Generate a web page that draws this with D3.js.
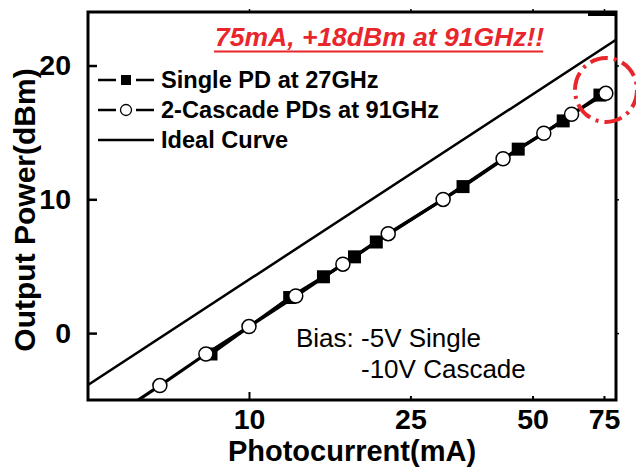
<!DOCTYPE html>
<html>
<head>
<meta charset="utf-8">
<script src="https://cdn.jsdelivr.net/npm/d3@7"></script>
<style>
  body { margin: 0; background: #fff; }
  svg { display: block; font-family: "Liberation Sans", Arial, sans-serif; }
</style>
</head>
<body>
<svg></svg>
<script>
// values
let singleI = [8.06, 12.6, 15.26, 18.2, 20.6, 33.7, 46.1, 59.5, 73.3]
let singleP = [-1.56, 2.66, 4.21, 5.70, 6.81, 10.95, 13.75, 15.86, 17.79]
let cascadeI = [4.6, 6.03, 7.83, 10.0, 13.04, 17.04, 22.04, 30.1, 42.3, 53.3, 62.4, 75.8]
let cascadeP = [-6.3, -3.92, -1.56, 0.49, 2.77, 5.15, 7.43, 9.99, 13.03, 14.94, 16.36, 17.92]
let idealI = [4.01, 80.3]
let idealP = [-3.87, 21.92]

let xTicks = [10, 25, 50, 75]
let yTicks = [0, 10, 20]
let legendNames = ['Single PD at 27GHz', '2-Cascade PDs at 91GHz', 'Ideal Curve']

let width = 636
let height = 472
let pLeft = 88, pRight = 616, pTop = 12, pBottom = 400
let red = '#e8262c'

let svg = d3.select('svg').attr('width', width).attr('height', height)

let xScale = d3.scaleLog().domain([4.01, 80.3]).range([pLeft, pRight])
let yScale = d3.scaleLinear().domain([-5, 24]).range([pBottom, pTop])

let single = singleI.map((d, i) => ({ x: d, y: singleP[i] }))
let cascade = cascadeI.map((d, i) => ({ x: d, y: cascadeP[i] }))
let ideal = idealI.map((d, i) => ({ x: d, y: idealP[i] }))

svg.append('clipPath').attr('id', 'plot')
  .append('rect')
  .attr('x', pLeft).attr('y', pTop)
  .attr('width', pRight - pLeft).attr('height', pBottom - pTop)

let line = d3.line().x(d => xScale(d.x)).y(d => yScale(d.y))

let plot = svg.append('g').attr('clip-path', 'url(#plot)')

plot.append('path').datum(ideal)
  .attr('d', line).attr('fill', 'none').attr('stroke', '#000').attr('stroke-width', 2.5)

plot.append('path').datum(single)
  .attr('d', line).attr('fill', 'none').attr('stroke', '#000').attr('stroke-width', 3.2)
plot.append('path').datum(cascade)
  .attr('d', line).attr('fill', 'none').attr('stroke', '#000').attr('stroke-width', 3.2)

plot.selectAll('rect.sq').data(single).enter()
  .append('rect').attr('class', 'sq')
  .attr('x', d => xScale(d.x) - 6.5).attr('y', d => yScale(d.y) - 6.5)
  .attr('width', 13).attr('height', 13).attr('fill', '#000')

plot.selectAll('circle').data(cascade).enter()
  .append('circle')
  .attr('cx', d => xScale(d.x)).attr('cy', d => yScale(d.y))
  .attr('r', 7).attr('fill', '#fff').attr('stroke', '#000').attr('stroke-width', 1.5)

// axes, ticks inside the frame
let xAxis = d3.axisBottom(xScale).tickValues(xTicks).tickFormat(d3.format('d'))
  .tickSizeInner(-4).tickSizeOuter(0).tickPadding(9)
let gx = svg.append('g').attr('transform', 'translate(0,' + pBottom + ')').call(xAxis)
gx.selectAll('.tick line').attr('y2', d => d == 10 ? -8 : -4).attr('stroke-width', 2)
gx.select('.domain').remove()
gx.selectAll('.tick text')
  .attr('font-size', 28.5).attr('font-weight', 'bold').attr('fill', '#000')
  .attr('font-family', '"Liberation Sans", Arial, sans-serif')

let gxTop = svg.append('g').attr('transform', 'translate(0,' + pTop + ')')
  .call(d3.axisTop(xScale).tickValues(xTicks).tickFormat('').tickSizeInner(3).tickSizeOuter(0))
gxTop.select('.domain').remove()
gxTop.selectAll('.tick line').attr('stroke-width', 1.5)

let yAxis = d3.axisLeft(yScale).tickValues(yTicks).tickFormat(d3.format('d'))
  .tickSizeInner(-9).tickSizeOuter(0).tickPadding(17)
let gy = svg.append('g').attr('transform', 'translate(' + pLeft + ',0)').call(yAxis)
gy.select('.domain').remove()
gy.selectAll('.tick line').attr('stroke-width', 2.5)
gy.selectAll('.tick text')
  .attr('font-size', 28.5).attr('font-weight', 'bold').attr('fill', '#000')
  .attr('font-family', '"Liberation Sans", Arial, sans-serif')

let gyRight = svg.append('g').attr('transform', 'translate(' + pRight + ',0)')
  .call(d3.axisRight(yScale).tickValues(yTicks).tickFormat('').tickSizeInner(3).tickSizeOuter(0))
gyRight.select('.domain').remove()
gyRight.selectAll('.tick line').attr('stroke-width', 1.5)

// frame
svg.append('rect')
  .attr('x', pLeft).attr('y', pTop).attr('width', pRight - pLeft).attr('height', pBottom - pTop)
  .attr('fill', 'none').attr('stroke', '#000').attr('stroke-width', 3)
svg.append('rect')
  .attr('x', 588).attr('y', pTop - 1).attr('width', pRight - 588).attr('height', 5)
  .attr('fill', '#000')

// axis titles
svg.append('text')
  .attr('x', 352).attr('y', 461).attr('text-anchor', 'middle')
  .attr('font-size', 29).attr('font-weight', 'bold')
  .text('Photocurrent(mA)')
svg.append('text')
  .attr('transform', 'translate(35,210) rotate(-90)').attr('text-anchor', 'middle')
  .attr('font-size', 30).attr('font-weight', 'bold')
  .text('Output Power(dBm)')

// red note
let note = svg.append('text')
  .attr('x', 215).attr('y', 46)
  .attr('font-size', 26.5).attr('font-weight', 'bold').attr('font-style', 'italic')
  .attr('fill', red)
  .text('75mA, +18dBm at 91GHz!!')
let nw = note.node().getComputedTextLength()
svg.append('line')
  .attr('x1', 214).attr('x2', 214 + nw).attr('y1', 51.5).attr('y2', 51.5)
  .attr('stroke', red).attr('stroke-width', 2.2)

svg.append('ellipse')
  .attr('cx', 606).attr('cy', 90).attr('rx', 31).attr('ry', 32)
  .attr('fill', 'none').attr('stroke', red).attr('stroke-width', 4)
  .attr('stroke-dasharray', '18,6,3,6')

// legend
let legend = svg.append('g')
legendNames.forEach((name, i) => {
  let ly = 80 + i * 30
  if (i < 2) {
    legend.append('line').attr('x1', 98).attr('x2', 116).attr('y1', ly).attr('y2', ly)
      .attr('stroke', '#000').attr('stroke-width', 2.5)
    legend.append('line').attr('x1', 136).attr('x2', 154).attr('y1', ly).attr('y2', ly)
      .attr('stroke', '#000').attr('stroke-width', 2.5)
  } else {
    legend.append('line').attr('x1', 98).attr('x2', 154).attr('y1', ly).attr('y2', ly)
      .attr('stroke', '#000').attr('stroke-width', 2.5)
  }
  if (i == 0) {
    legend.append('rect').attr('x', 121).attr('y', ly - 5).attr('width', 10).attr('height', 10)
      .attr('fill', '#000')
  }
  if (i == 1) {
    legend.append('circle').attr('cx', 126).attr('cy', ly).attr('r', 5.5)
      .attr('fill', '#fff').attr('stroke', '#000').attr('stroke-width', 1.3)
  }
  legend.append('text')
    .attr('x', 161).attr('y', ly + 8)
    .attr('font-size', 23.6).attr('font-weight', 'bold')
    .text(name)
})

// bias note
svg.append('text').attr('x', 296).attr('y', 347).attr('font-size', 26).text('Bias: -5V Single')
svg.append('text').attr('x', 361).attr('y', 378).attr('font-size', 26).text('-10V Cascade')
</script>
</body>
</html>
